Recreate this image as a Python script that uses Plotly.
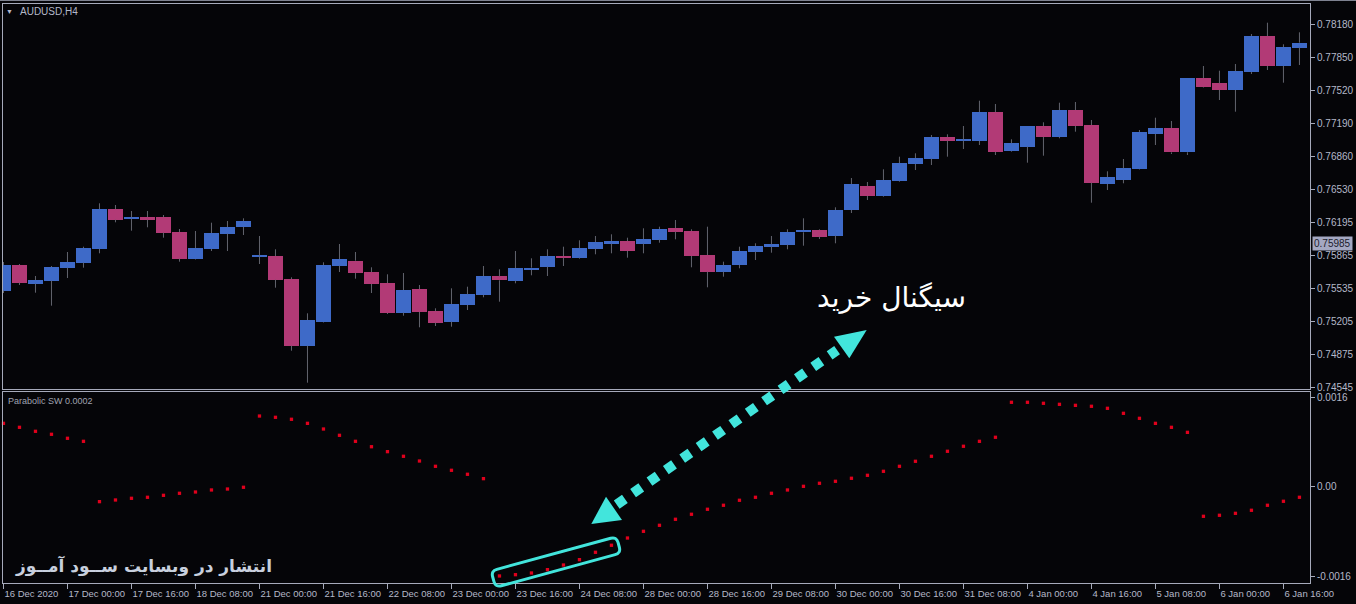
import math
import plotly.graph_objects as go

W, H = 1356, 604

# ---------------- data ----------------
time_labels = ["16 Dec 2020", "17 Dec 00:00", "17 Dec 16:00", "18 Dec 08:00", "21 Dec 00:00",
               "21 Dec 16:00", "22 Dec 08:00", "23 Dec 00:00", "23 Dec 16:00", "24 Dec 08:00",
               "28 Dec 00:00", "28 Dec 16:00", "29 Dec 08:00", "30 Dec 00:00", "30 Dec 16:00",
               "31 Dec 08:00", "4 Jan 00:00", "4 Jan 16:00", "5 Jan 08:00", "6 Jan 00:00",
               "6 Jan 16:00"]
label_bars = list(range(0, 81, 4))

open_ = [0.75516, 0.75773, 0.75586, 0.75616, 0.75746, 0.75796, 0.75933, 0.76333, 0.76236, 0.76253,
         0.76253, 0.76103, 0.75833, 0.75933, 0.76086, 0.76153, 0.75855, 0.75863, 0.75633, 0.74966,
         0.75203, 0.75766, 0.75816, 0.75703, 0.75593, 0.75296, 0.75533, 0.75313, 0.75206, 0.75373,
         0.75473, 0.75660, 0.75616, 0.75723, 0.75756, 0.75863, 0.75846, 0.75936, 0.75986, 0.76013,
         0.75986, 0.76026, 0.76143, 0.76113, 0.75873, 0.75706, 0.75773, 0.75906, 0.75956, 0.75976,
         0.76100, 0.76123, 0.76066, 0.76323, 0.76563, 0.76463, 0.76613, 0.76783, 0.76836, 0.77053,
         0.77015, 0.77013, 0.77303, 0.76913, 0.76956, 0.77163, 0.77053, 0.77323, 0.77173, 0.76583,
         0.76623, 0.76733, 0.77083, 0.77143, 0.76900, 0.77643, 0.77590, 0.77523, 0.77703, 0.78063,
         0.77763, 0.77946]
high = [0.75803, 0.75783, 0.75663, 0.75763, 0.75903, 0.75956, 0.76390, 0.76373, 0.76313, 0.76313,
        0.76273, 0.76133, 0.76113, 0.76196, 0.76213, 0.76240, 0.76063, 0.75930, 0.75650, 0.75290,
        0.75800, 0.75983, 0.75903, 0.75750, 0.75680, 0.75693, 0.75573, 0.75340, 0.75540, 0.75556,
        0.75763, 0.75730, 0.75913, 0.75840, 0.75930, 0.75956, 0.76020, 0.76063, 0.76080, 0.76046,
        0.76140, 0.76156, 0.76223, 0.76130, 0.76156, 0.75806, 0.75956, 0.75990, 0.76063, 0.76130,
        0.76240, 0.76130, 0.76350, 0.76643, 0.76603, 0.76730, 0.76856, 0.76890, 0.77073, 0.77080,
        0.77163, 0.77416, 0.77383, 0.77030, 0.77163, 0.77200, 0.77396, 0.77403, 0.77223, 0.76710,
        0.76833, 0.77123, 0.77246, 0.77213, 0.77643, 0.77763, 0.77716, 0.77783, 0.78083, 0.78196,
        0.77980, 0.78100]
low = [0.75493, 0.75573, 0.75496, 0.75366, 0.75643, 0.75746, 0.75890, 0.76200, 0.76116, 0.76150,
       0.76046, 0.75806, 0.75828, 0.75913, 0.75913, 0.76073, 0.75783, 0.75546, 0.74916, 0.74596,
       0.75198, 0.75703, 0.75636, 0.75493, 0.75283, 0.75266, 0.75150, 0.75163, 0.75156, 0.75323,
       0.75450, 0.75406, 0.75590, 0.75670, 0.75663, 0.75763, 0.75836, 0.75880, 0.75890, 0.75846,
       0.75890, 0.75996, 0.76030, 0.75750, 0.75550, 0.75656, 0.75740, 0.75823, 0.75896, 0.75930,
       0.75966, 0.76033, 0.75990, 0.76293, 0.76423, 0.76456, 0.76606, 0.76723, 0.76773, 0.76856,
       0.76933, 0.76973, 0.76873, 0.76906, 0.76796, 0.76866, 0.77040, 0.77106, 0.76396, 0.76523,
       0.76590, 0.76728, 0.76973, 0.76883, 0.76873, 0.77548, 0.77423, 0.77306, 0.77683, 0.77723,
       0.77596, 0.77773]
close = [0.75773, 0.75596, 0.75623, 0.75753, 0.75803, 0.75943, 0.76333, 0.76226, 0.76250, 0.76226,
         0.76096, 0.75836, 0.75943, 0.76093, 0.76153, 0.76213, 0.75865, 0.75626, 0.74966, 0.75223,
         0.75773, 0.75833, 0.75693, 0.75583, 0.75293, 0.75523, 0.75303, 0.75196, 0.75383, 0.75480,
         0.75663, 0.75620, 0.75743, 0.75746, 0.75863, 0.75843, 0.75943, 0.76003, 0.76013, 0.75913,
         0.76033, 0.76133, 0.76106, 0.75863, 0.75706, 0.75770, 0.75913, 0.75963, 0.75980, 0.76103,
         0.76123, 0.76056, 0.76323, 0.76583, 0.76463, 0.76623, 0.76793, 0.76843, 0.77053, 0.77016,
         0.77025, 0.77303, 0.76903, 0.76990, 0.77163, 0.77053, 0.77323, 0.77163, 0.76596, 0.76653,
         0.76740, 0.77103, 0.77143, 0.76900, 0.77643, 0.77553, 0.77523, 0.77713, 0.78063, 0.77763,
         0.77953, 0.77996]

sar_sw = [0.001132, 0.001061, 0.000990, 0.000937, 0.000866, 0.000812,
          -0.000261, -0.000231, -0.000201, -0.000183, -0.000148, -0.000112, -0.000089, -0.000053,
          -0.000036, -0.000005,
          0.001262, 0.001239, 0.001204, 0.001132, 0.001031, 0.000919, 0.000812, 0.000716, 0.000628,
          0.000546, 0.000462, 0.000368, 0.000297, 0.000226, 0.000148,
          -0.001582, -0.001559, -0.001529, -0.001470, -0.001387, -0.001292, -0.001161, -0.001036,
          -0.000907, -0.000788, -0.000681, -0.000574, -0.000485, -0.000396, -0.000325, -0.000236,
          -0.000183, -0.000112, -0.000053, 0.000012, 0.000066, 0.000101, 0.000155, 0.000208,
          0.000279, 0.000368, 0.000457, 0.000546, 0.000635, 0.000724, 0.000812, 0.000884,
          0.001506, 0.001506, 0.001488, 0.001470, 0.001452, 0.001435, 0.001399, 0.001310, 0.001221,
          0.001132, 0.001061, 0.000972,
          -0.000521, -0.000503, -0.000468, -0.000414, -0.000325, -0.000254, -0.000183]

price_ticks = [0.78180, 0.77850, 0.77520, 0.77190, 0.76860, 0.76530, 0.76195, 0.75865,
               0.75535, 0.75205, 0.74875, 0.74545]
ind_ticks = [0.0016, 0.0, -0.0016]
ind_tick_text = ["0.0016", "0.00", "-0.0016"]
last_price = 0.75985

# ---------------- styling ----------------
BG = "#050508"
FRAME = "#A6AABA"
TXT = "#B4B8C8"
BULL = "#3E6AC8"
BEAR = "#B23A76"
WICK = "#62646E"
DOT = "#E0001C"
CYAN = "#42E5DC"
FONT = "Liberation Sans, Arial, sans-serif"
TICK_SIZE = 10


def X(px):
    return px / W


def Y(py):
    return 1 - py / H


n = len(open_)
idx = list(range(n))

# wick segments (outside the body)
wx, wy = [], []
for i in idx:
    top = max(open_[i], close[i])
    bot = min(open_[i], close[i])
    wx += [i, i, None, i, i, None]
    wy += [high[i], top, None, bot, low[i], None]

body_base = [min(o, c) for o, c in zip(open_, close)]
body_h = [max(abs(c - o), 0.00011) for o, c in zip(open_, close)]
body_col = [BULL if c >= o else BEAR for o, c in zip(open_, close)]

fig = go.Figure()
fig.add_trace(go.Scatter(x=wx, y=wy, mode="lines", line=dict(color=WICK, width=1),
                         hoverinfo="skip", showlegend=False, xaxis="x", yaxis="y"))
fig.add_trace(go.Bar(x=idx, base=body_base, y=body_h, width=0.9,
                     marker=dict(color=body_col, line=dict(width=0)),
                     showlegend=False, xaxis="x", yaxis="y"))
fig.add_trace(go.Scatter(x=idx, y=sar_sw, mode="markers",
                         marker=dict(symbol="square", size=3.3, color=DOT, line=dict(width=0)),
                         cliponaxis=False, showlegend=False, xaxis="x2", yaxis="y2"))

xrange = [-0.03, 81.66]
common_x = dict(range=xrange, domain=[X(3), X(1310)], showgrid=False, zeroline=False,
                showline=True, linecolor=FRAME, linewidth=1, mirror=True, fixedrange=True)

fig.update_layout(
    width=W, height=H,
    margin=dict(l=0, r=0, t=0, b=0),
    paper_bgcolor=BG, plot_bgcolor=BG,
    showlegend=False,
    font=dict(family=FONT, size=TICK_SIZE, color=TXT),
    bargap=0,
    xaxis=dict(**common_x, anchor="y", showticklabels=False, ticks=""),
    yaxis=dict(domain=[Y(389), Y(4)], range=[0.74533, 0.78383], side="right", anchor="x",
               tickvals=price_ticks, ticktext=[f"{v:.5f}" for v in price_ticks],
               ticks="outside", ticklen=4, tickcolor=FRAME, showgrid=False, zeroline=False,
               showline=True, linecolor=FRAME, linewidth=1, mirror=True, automargin=False,
               tickfont=dict(family=FONT, size=TICK_SIZE, color=TXT)),
    xaxis2=dict(**common_x, anchor="y2", tickvals=label_bars, ticktext=time_labels,
                ticks="outside", ticklen=5, tickcolor=FRAME, ticklabelposition="outside right",
                tickangle=0, ticklabelstandoff=2, automargin=False,
                tickfont=dict(family=FONT, size=9.5, color=TXT)),
    yaxis2=dict(domain=[Y(583), Y(392)], range=[-0.001707, 0.001689], side="right", anchor="x2",
                tickvals=ind_ticks, ticktext=ind_tick_text, ticks="outside", ticklen=4,
                tickcolor=FRAME, showgrid=False, zeroline=False, showline=True,
                linecolor=FRAME, linewidth=1, mirror=True, automargin=False,
                tickfont=dict(family=FONT, size=TICK_SIZE, color=TXT)),
)

# ---------------- annotations ----------------
ann = [
    dict(text="▼", x=X(9), y=Y(11), xanchor="center", yanchor="middle",
         font=dict(size=7, color=TXT)),
    dict(text="AUDUSD,H4", x=X(18), y=Y(11), xanchor="left", yanchor="middle",
         font=dict(size=10, color=TXT)),
    dict(text="Parabolic SW 0.0002", x=X(6), y=Y(401), xanchor="left", yanchor="middle",
         font=dict(size=9, color="#A0A4B0")),
    dict(text="سیگنال خرید", x=X(892), y=Y(297), xanchor="center", yanchor="middle",
         font=dict(family="DejaVu Sans", size=28, color="#FFFFFF")),
    dict(text="<b>انتشار در وبسایت ســود آمــوز</b>", x=X(143), y=Y(566), xanchor="center",
         yanchor="middle", font=dict(family="DejaVu Sans", size=17, color="#C8D0DE")),
]
for a in ann:
    a.update(xref="paper", yref="paper", showarrow=False)
ann.append(dict(text=f"{last_price:.5f}", xref="paper", x=X(1312), yref="y", y=last_price,
                xanchor="left", yanchor="middle", showarrow=False, bgcolor="#A4A8C2",
                borderpad=1, font=dict(family=FONT, size=TICK_SIZE, color="#1C1C2C")))
fig.update_layout(annotations=ann)


def pt(px, py):
    return f"{X(px):.6f},{Y(py):.6f}"


shapes = []
# window top frame line
shapes.append(dict(type="line", xref="paper", yref="paper", x0=0, x1=1, y0=Y(0.5), y1=Y(0.5),
                   line=dict(color="#7E8290", width=1)))

# dotted double arrow
shapes.append(dict(type="line", xref="paper", yref="paper",
                   x0=X(616.7), y0=Y(504.6), x1=X(837.1), y1=Y(350.1),
                   line=dict(color=CYAN, width=10, dash="dot")))
shapes.append(dict(type="path", xref="paper", yref="paper",
                   path=f"M{pt(866.7, 330)} L{pt(834, 336.7)} L{pt(849.3, 358.3)} Z",
                   fillcolor=CYAN, line=dict(width=0)))
shapes.append(dict(type="path", xref="paper", yref="paper",
                   path=f"M{pt(591.3, 524)} L{pt(606, 496.7)} L{pt(622, 520)} Z",
                   fillcolor=CYAN, line=dict(width=0)))


# rotated rounded rectangle around the highlighted dots
def rounded_rect(cx, cy, length, height, angle_deg, r):
    a = math.radians(angle_deg)
    ux, uy = math.cos(a), math.sin(a)
    nx, ny = -uy, ux

    def P(s, t):
        return pt(cx + s * ux + t * nx, cy + s * uy + t * ny)

    hl, hh = length / 2, height / 2
    return (f"M{P(-hl + r, -hh)} L{P(hl - r, -hh)} Q{P(hl, -hh)} {P(hl, -hh + r)} "
            f"L{P(hl, hh - r)} Q{P(hl, hh)} {P(hl - r, hh)} L{P(-hl + r, hh)} "
            f"Q{P(-hl, hh)} {P(-hl, hh - r)} L{P(-hl, -hh + r)} Q{P(-hl, -hh)} {P(-hl + r, -hh)} Z")


shapes.append(dict(type="path", xref="paper", yref="paper",
                   path=rounded_rect(556, 562, 130, 17, -15.3, 6),
                   line=dict(color=CYAN, width=3)))
fig.update_layout(shapes=shapes)

fig.write_html("out.html", config={"displayModeBar": False},
               post_script="document.body.style.margin='0';")
